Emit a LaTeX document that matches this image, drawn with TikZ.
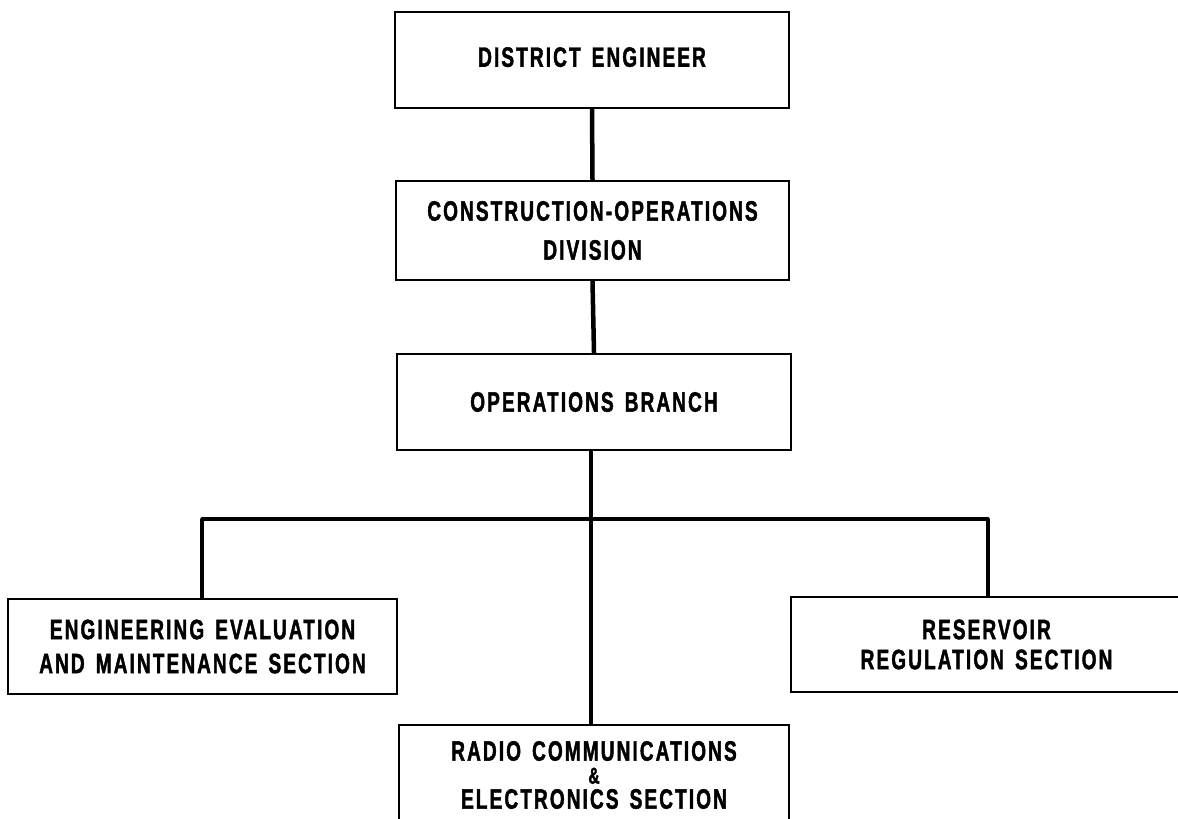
\documentclass[tikz,border=0pt]{standalone}
\usepackage{fontspec}
\newfontfamily\lettering{Liberation Sans}[FakeStretch=0.68,LetterSpace=7.5,WordSpace=1.5,FakeBold=1.5]
\begin{document}
\begin{tikzpicture}[x=1pt,y=-1pt,
  orgbox/.style={draw=black,line width=2.4pt,rectangle,align=center,inner sep=0pt,
    font=\lettering\bfseries\fontsize{28}{37}\selectfont},
  link/.style={draw=black,line width=4.5pt},
  bus/.style={draw=black,line width=3.5pt,line cap=round}]
\useasboundingbox[fill=white] (0,0) rectangle (1178,819);
\node[orgbox,minimum width=394pt,minimum height=96pt] (de) at (592,60) {\raisebox{6pt}{DISTRICT ENGINEER}};
\node[orgbox,minimum width=393pt,minimum height=99pt] (cod) at (592.5,230.5) {CONSTRUCTION-OPERATIONS\\[2pt]DIVISION};
\node[orgbox,minimum width=394pt,minimum height=96pt] (ob) at (594,402) {OPERATIONS BRANCH};
\node[orgbox,minimum width=389pt,minimum height=95pt,font=\lettering\bfseries\fontsize{28}{34}\selectfont] (eem) at (202.5,646.5) {ENGINEERING EVALUATION\\AND MAINTENANCE SECTION};
\node[orgbox,minimum width=391pt,minimum height=95pt,font=\lettering\bfseries\fontsize{28}{30}\selectfont] (rrs) at (986.5,644.5) {RESERVOIR\\REGULATION SECTION};
\node[orgbox,minimum width=390pt,minimum height=100pt] (rce) at (594,775) {RADIO COMMUNICATIONS\\[-14pt]{\fontsize{23}{23}\selectfont\&}\\[-12pt]ELECTRONICS SECTION};
\coordinate (bl) at (202,519);
\coordinate (br) at (988,519);
\coordinate (bm) at (591,519);
\draw[link] (de.south) -- (cod.north);
\draw[link] (cod.south) -- (ob.north);
\draw[link] (ob.south -| bm) -- (rce.north -| bm);
\draw[bus] (bl) -- (br);
\draw[link] (bl) -- (bl |- eem.north);
\draw[link] (br) -- (br |- rrs.north);
\end{tikzpicture}
\end{document}
